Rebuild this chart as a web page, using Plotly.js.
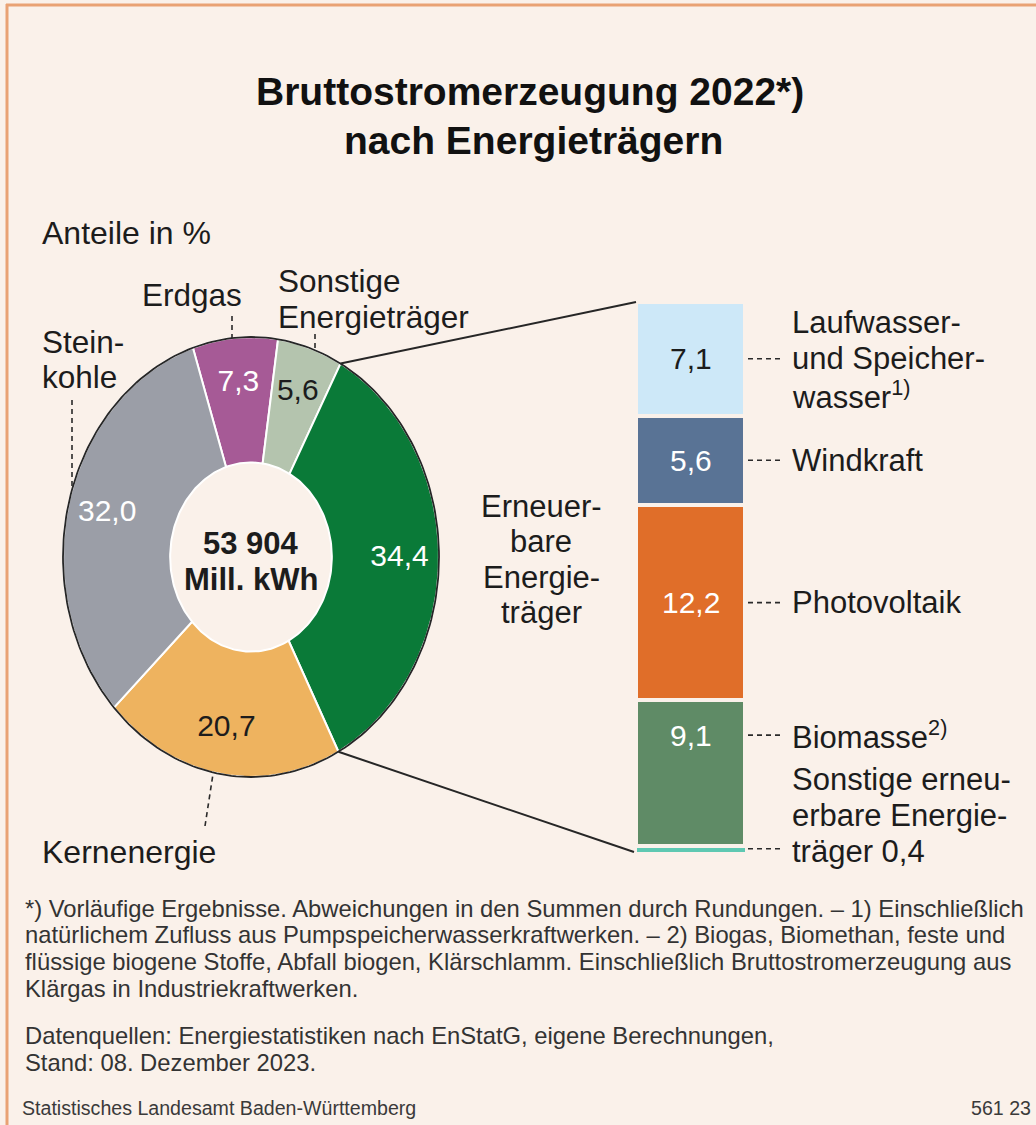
<!DOCTYPE html>
<html>
<head>
<meta charset="utf-8">
<script src="https://cdn.plot.ly/plotly-3.0.1.min.js"></script>
<style>
  html, body { margin: 0; padding: 0; background: #faf1ea; }
  #chart { width: 1036px; height: 1125px; }
</style>
</head>
<body>
<div id="chart"></div>
<script>
// ---------------- data ----------------
const pieLabels = ['Erdgas', 'Sonstige Energieträger', 'Erneuerbare Energieträger', 'Kernenergie', 'Steinkohle'];
const pieValues = [7.3, 5.6, 34.4, 20.7, 32.0];
const barLabels = ['Laufwasser- und Speicherwasser', 'Windkraft', 'Photovoltaik', 'Biomasse', 'Sonstige erneuerbare Energieträger'];
const barValues = [7.1, 5.6, 12.2, 9.1, 0.4];
const totalValue = '53 904';
const totalUnit = 'Mill. kWh';
const titleLines = ['Bruttostromerzeugung 2022*)', 'nach Energieträgern'];
const subtitle = 'Anteile in %';
const footLines = [
  '*) Vorläufige Ergebnisse. Abweichungen in den Summen durch Rundungen. – 1) Einschließlich',
  'natürlichem Zufluss aus Pumpspeicherwasserkraftwerken. – 2) Biogas, Biomethan, feste und',
  'flüssige biogene Stoffe, Abfall biogen, Klärschlamm. Einschließlich Bruttostromerzeugung aus',
  'Klärgas in Industriekraftwerken.'
];
const sourceLines = ['Datenquellen: Energiestatistiken nach EnStatG, eigene Berechnungen,', 'Stand: 08. Dezember 2023.'];
const publisher = 'Statistisches Landesamt Baden-Württemberg';
const chartId = '561 23';

// ---------------- styles / layout constants ----------------
const W = 1036, H = 1125;
const BG = '#faf1ea';
const TXT = '#1c1c1c';
const SANS = 'Liberation Sans, Arial, Helvetica, sans-serif';
const pieColors = ['#a65a96', '#b4c4ae', '#0a7a38', '#eeb35f', '#9b9ea7'];
const pieTextColors = ['#ffffff', '#1c1c1c', '#ffffff', '#1c1c1c', '#ffffff'];
const barColors = ['#cde8f8', '#597395', '#e06e29', '#5f8b66', '#5ec8b2'];
const barTextColors = ['#1c1c1c', '#ffffff', '#ffffff', '#ffffff', '#ffffff'];

// donut geometry (pixels)
const CX = 251, CY = 557, RX = 188, RY = 220, HOLE = 0.43, START = -18, LABEL_R = 0.79;
// bar geometry (pixels)
const BAR_LEFT = 636, BAR_W = 109, BAR_BOTTOM = 852, BAR_TOP = 302;

const fmt = v => v.toFixed(1).replace('.', ',');
const sum = a => a.reduce((s, v) => s + v, 0);
const pieTotal = sum(pieValues);
const barTotal = sum(barValues);
const K = (BAR_BOTTOM - BAR_TOP) / barTotal;   // px per %-point in bar

const rad = d => d * Math.PI / 180;
function donutPx(angle, r) { return { x: CX + RX * r * Math.sin(rad(angle)), y: CY - RY * r * Math.cos(rad(angle)) }; }
const pX = px => px / W;
const pY = py => 1 - py / H;

function ann(text, px, py, size, opts) {
  return Object.assign({
    xref: 'paper', yref: 'paper', x: pX(px), y: pY(py), text: text, showarrow: false,
    xanchor: 'left', yanchor: 'middle', borderpad: 0, borderwidth: 0,
    font: { family: SANS, size: size, color: TXT }
  }, opts || {});
}

const traces = [];
const annotations = [];
const shapes = [];

// ---------------- donut (elliptical) ----------------
let cum = 0;
const sliceAngles = [];
pieValues.forEach((v, i) => {
  const a0 = START + cum / pieTotal * 360;
  const a1 = a0 + v / pieTotal * 360;
  cum += v;
  sliceAngles.push([a0, a1]);
  const n = Math.max(4, Math.ceil((a1 - a0) / 1.5));
  const xs = [], ys = [];
  for (let k = 0; k <= n; k++) { const a = rad(a0 + (a1 - a0) * k / n); xs.push(Math.sin(a)); ys.push(Math.cos(a)); }
  for (let k = n; k >= 0; k--) { const a = rad(a0 + (a1 - a0) * k / n); xs.push(HOLE * Math.sin(a)); ys.push(HOLE * Math.cos(a)); }
  xs.push(xs[0]); ys.push(ys[0]);
  traces.push({
    type: 'scatter', mode: 'lines', x: xs, y: ys, fill: 'toself', fillcolor: pieColors[i],
    line: { color: '#ffffff', width: 2 }, hoverinfo: 'text', hoveron: 'fills',
    text: pieLabels[i] + ': ' + fmt(v) + ' %', xaxis: 'x', yaxis: 'y', showlegend: false
  });
});
// outer outline
{
  const xs = [], ys = [];
  for (let k = 0; k <= 240; k++) { const a = 2 * Math.PI * k / 240; xs.push(Math.sin(a)); ys.push(Math.cos(a)); }
  traces.push({ type: 'scatter', mode: 'lines', x: xs, y: ys, line: { color: '#262626', width: 1.8 },
    hoverinfo: 'skip', xaxis: 'x', yaxis: 'y', showlegend: false });
}
// slice value labels
traces.push({
  type: 'scatter', mode: 'text', xaxis: 'x', yaxis: 'y', showlegend: false, hoverinfo: 'skip', cliponaxis: false,
  x: sliceAngles.map(a => LABEL_R * Math.sin(rad((a[0] + a[1]) / 2))),
  y: sliceAngles.map(a => LABEL_R * Math.cos(rad((a[0] + a[1]) / 2))),
  text: pieValues.map(fmt),
  textposition: 'middle center',
  textfont: { family: SANS, size: 30, color: pieTextColors }
});

// ---------------- stacked bar ----------------
for (let i = barValues.length - 1; i >= 0; i--) {
  traces.push({
    type: 'bar', x: [0], y: [barValues[i]], width: 1, name: barLabels[i],
    marker: { color: barColors[i], line: { color: BG, width: i === barValues.length - 1 ? 1 : 4 } },
    xaxis: 'x2', yaxis: 'y2', hoverinfo: 'name+y', showlegend: false
  });
}
// bar cumulative positions (from bottom)
const segBottom = [], segTop = [];
{
  let c = 0;
  for (let i = barValues.length - 1; i >= 0; i--) { segBottom[i] = c; c += barValues[i]; segTop[i] = c; }
}
const barPx = v => BAR_BOTTOM - v * K;

// value labels inside bar
barValues.forEach((v, i) => {
  if (i === barValues.length - 1) return; // too thin, value given in side label
  const atTop = (i === 3);
  const yv = atTop ? segTop[i] : (segBottom[i] + segTop[i]) / 2;
  annotations.push({
    xref: 'x2', yref: 'y2', x: 0, y: yv, text: fmt(v), showarrow: false,
    xanchor: 'center', yanchor: 'middle', yshift: atTop ? -35 : 0, borderpad: 0, borderwidth: 0,
    font: { family: SANS, size: 30, color: barTextColors[i] }
  });
});

// side labels of the bar
const sideLines = [
  ['Laufwasser-', 'und Speicher-', 'wasser<sup>1)</sup>'],
  ['Windkraft'],
  ['Photovoltaik'],
  ['Biomasse<sup>2)</sup>'],
  ['Sonstige erneu-', 'erbare Energie-', 'träger ' + fmt(barValues[4])]
];
const sideAnchorLine = [1, 0, 0, 0, 2];
const LINE = 36;
sideLines.forEach((lines, i) => {
  let yv, shift;
  if (i === 3) { yv = segTop[i]; shift = -35; }
  else if (i === 4) { yv = (segBottom[i] + segTop[i]) / 2; shift = -3; }
  else { yv = (segBottom[i] + segTop[i]) / 2; shift = 0; }
  lines.forEach((t, j) => {
    annotations.push({
      xref: 'x2', yref: 'y2', x: 0.5, y: yv, xshift: 47, yshift: shift - (j - sideAnchorLine[i]) * LINE,
      text: t, showarrow: false, xanchor: 'left', yanchor: 'middle', borderpad: 0, borderwidth: 0,
      font: { family: SANS, size: 31, color: TXT }
    });
  });
  // dashed leader
  const yLead = i === 3 ? segTop[i] - 35 / K : (segBottom[i] + segTop[i]) / 2;
  shapes.push({
    type: 'line', xref: 'x2', yref: 'y2', xsizemode: 'pixel', xanchor: 0.5, x0: 3, x1: 38,
    y0: yLead, y1: yLead, line: { color: '#2a2a2a', width: 1.6, dash: '5px,4px' }
  });
});

// ---------------- connectors donut -> bar ----------------
const renIdx = pieLabels.indexOf('Erneuerbare Energieträger');
{
  const p0 = donutPx(sliceAngles[renIdx][0], 1);
  const p1 = donutPx(sliceAngles[renIdx][1], 1);
  shapes.push({ type: 'line', xref: 'paper', yref: 'paper', x0: pX(p0.x), y0: pY(p0.y), x1: pX(BAR_LEFT), y1: pY(barPx(barTotal)), line: { color: '#262626', width: 2 } });
  shapes.push({ type: 'line', xref: 'paper', yref: 'paper', x0: pX(p1.x), y0: pY(p1.y), x1: pX(BAR_LEFT - 2), y1: pY(barPx(0)), line: { color: '#262626', width: 2 } });
}

// ---------------- donut label leaders ----------------
const leader = (x0, y0, x1, y1) => shapes.push({ type: 'line', xref: 'paper', yref: 'paper', x0: pX(x0), y0: pY(y0), x1: pX(x1), y1: pY(y1), line: { color: '#2a2a2a', width: 1.6, dash: '5px,4px' } });
leader(232, 316, 232, 338);
leader(315, 334, 315, 350);
leader(72, 400, 72, 489);
leader(205, 826, 213, 774);

// ---------------- texts ----------------
annotations.push(ann('<b>' + titleLines[0] + '</b>', 530, 91, 39, { xanchor: 'center', font: { family: SANS, size: 39, color: '#111' } }));
annotations.push(ann('<b>' + titleLines[1] + '</b>', 533, 141, 39, { xanchor: 'center', font: { family: SANS, size: 39, color: '#111' } }));
annotations.push(ann(subtitle, 42, 233, 32));
annotations.push(ann('Erdgas', 142, 295, 31.5));
annotations.push(ann('Sonstige', 278, 281, 31.5));
annotations.push(ann('Energieträger', 278, 317, 31.5));
annotations.push(ann('Stein-', 42, 342, 31.5));
annotations.push(ann('kohle', 42, 377, 31.5));
annotations.push(ann('Kernenergie', 42, 852, 32));
['Erneuer-', 'bare', 'Energie-', 'träger'].forEach((t, j) => annotations.push(ann(t, 541, 506 + j * 35.5, 31, { xanchor: 'center' })));
annotations.push(ann('<b>' + totalValue + '</b>', 251, 543, 31, { xanchor: 'center' }));
annotations.push(ann('<b>' + totalUnit + '</b>', 251, 579, 31, { xanchor: 'center' }));

footLines.forEach((t, j) => annotations.push(ann(t, 25, 908 + j * 26.7, 23.8, { font: { family: SANS, size: 23.8, color: '#333' } })));
sourceLines.forEach((t, j) => annotations.push(ann(t, 25, 1035 + j * 27, 23.8, { font: { family: SANS, size: 23.8, color: '#333' } })));
annotations.push(ann(publisher, 22, 1108, 19.6, { font: { family: SANS, size: 19.6, color: '#3a3a3a' } }));
annotations.push(ann(chartId, 1031, 1108, 19.6, { xanchor: 'right', font: { family: SANS, size: 19.6, color: '#3a3a3a' } }));

// frame (orange border top & left)
shapes.push({ type: 'line', xref: 'paper', yref: 'paper', x0: pX(6), y0: pY(5), x1: 1, y1: pY(5), line: { color: '#e9a274', width: 3 } });
shapes.push({ type: 'line', xref: 'paper', yref: 'paper', x0: pX(7), y0: pY(4), x1: pX(7), y1: 0, line: { color: '#e9a274', width: 3 } });

// ---------------- layout ----------------
const layout = {
  width: W, height: H,
  margin: { l: 0, r: 0, t: 0, b: 0, pad: 0 },
  paper_bgcolor: BG, plot_bgcolor: 'rgba(0,0,0,0)',
  showlegend: false, barmode: 'stack', hovermode: 'closest',
  xaxis: { domain: [0, 1], range: [(0 - CX) / RX, (W - CX) / RX], visible: false, fixedrange: true },
  yaxis: { domain: [0, 1], range: [(CY - H) / RY, CY / RY], visible: false, fixedrange: true },
  xaxis2: { domain: [BAR_LEFT / W, 1], range: [-0.5, -0.5 + (W - BAR_LEFT) / BAR_W], anchor: 'y2', visible: false, fixedrange: true },
  yaxis2: { domain: [0, 1], range: [(BAR_BOTTOM - H) / K, BAR_BOTTOM / K], anchor: 'x2', visible: false, fixedrange: true },
  annotations: annotations,
  shapes: shapes
};

Plotly.newPlot('chart', traces, layout, { displayModeBar: false, responsive: false });
</script>
</body>
</html>
